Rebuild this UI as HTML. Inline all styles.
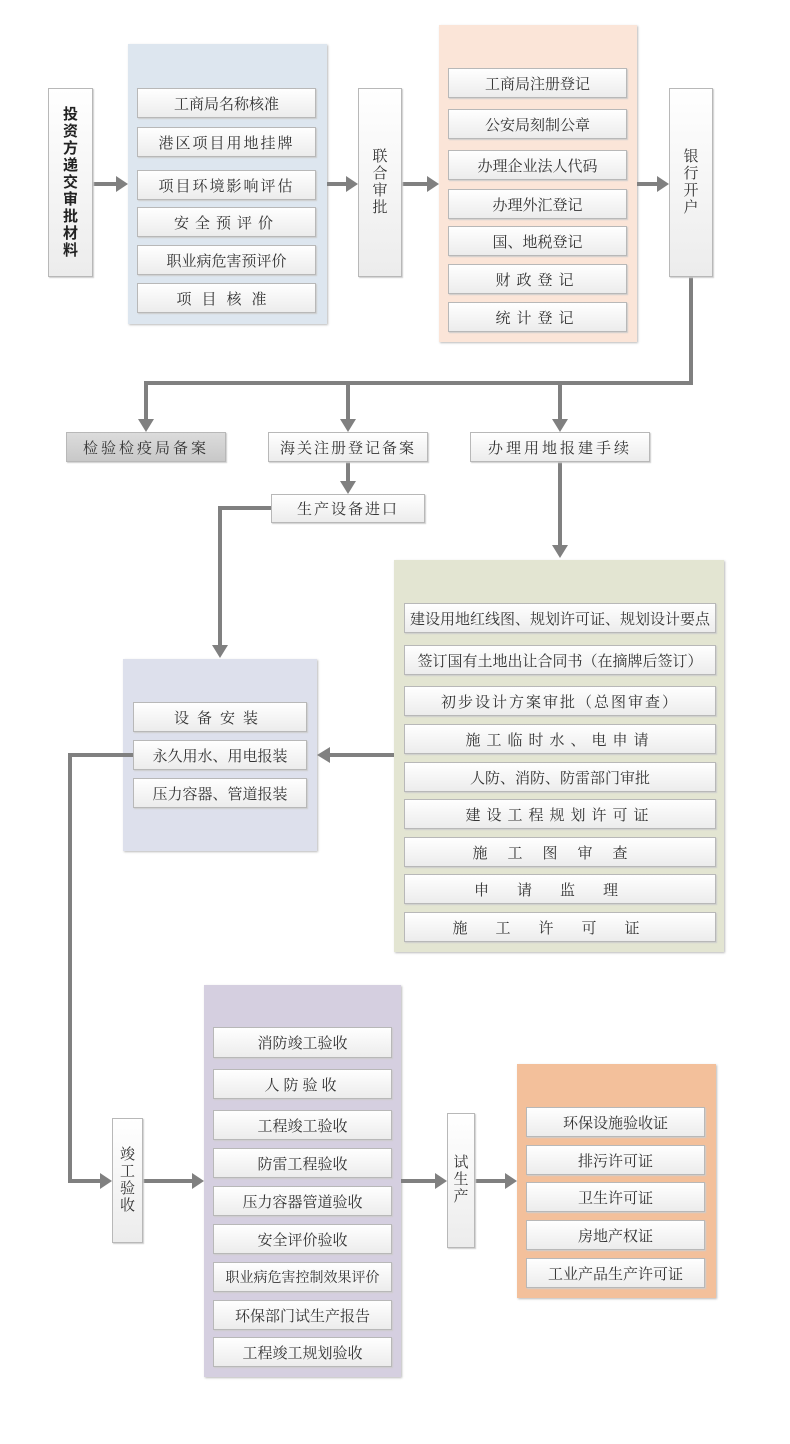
<!DOCTYPE html>
<html><head><meta charset="utf-8"><style>
body{margin:0;background:#fff;}
#c{position:relative;width:790px;height:1444px;overflow:hidden;font-family:"Liberation Serif","Noto Serif CJK SC",serif;color:#333;}
.g{position:absolute;box-shadow:1px 1px 2px #bbb;}
.b{position:absolute;box-sizing:border-box;border:1px solid #b8b8b8;background:linear-gradient(#fff,#ececec);box-shadow:1px 1px 1px #ccc;display:flex;align-items:center;justify-content:center;font-size:15px;white-space:nowrap;}
.v{flex-direction:column;line-height:17px;font-size:15px;}
svg{position:absolute;left:0;top:0;}
</style></head><body><div id="c">
<div class="g" style="left:128px;top:44px;width:199px;height:280px;background:#dde6ef"></div>
<div class="g" style="left:439px;top:25px;width:198px;height:317px;background:#fbe5d8"></div>
<div class="g" style="left:394px;top:560px;width:330px;height:392px;background:#e3e5d2"></div>
<div class="g" style="left:123px;top:659px;width:194px;height:192px;background:#dde0ec"></div>
<div class="g" style="left:204px;top:985px;width:197px;height:392px;background:#d5cfe0"></div>
<div class="g" style="left:517px;top:1064px;width:199px;height:234px;background:#f3c09b"></div>

<svg width="790" height="1444" fill="#808080" stroke="#808080">
<g stroke-width="4" fill="none">
<path d="M93 184H118M327 184H348M402 184H429M637 184H659"/>
<path d="M691 277V383H146V420M348 383V420M560 383V420"/>
<path d="M348 462V482M560 462V546M271 508H220V646M394 755H330M133 755H70V1181H100M143 1181H192M401 1181H435M475 1181H505"/>
</g>
<g stroke="none">
<path d="M128 184l-12-8v16zM358 184l-12-8v16zM439 184l-12-8v16zM669 184l-12-8v16z"/>
<path d="M146 432l-8-13h16zM348 432l-8-13h16zM560 432l-8-13h16zM348 494l-8-13h16zM560 558l-8-13h16zM220 658l-8-13h16z"/>
<path d="M317 755l13-8v16zM112 1181l-12-8v16zM204 1181l-12-8v16zM447 1181l-12-8v16zM517 1181l-12-8v16z"/>
</g></svg>

<div class="b v" style="left:48px;top:88px;width:45px;height:189px;font-weight:bold;color:#222;font-family:'Liberation Sans','Noto Sans CJK SC',sans-serif">投<br>资<br>方<br>递<br>交<br>审<br>批<br>材<br>料</div>
<div class="b v" style="left:358px;top:88px;width:44px;height:189px">联<br>合<br>审<br>批</div>
<div class="b v" style="left:669px;top:88px;width:44px;height:189px">银<br>行<br>开<br>户</div>

<div class="b" style="left:137px;top:88px;width:179px;height:30px">工商局名称核准</div>
<div class="b" style="left:137px;top:127px;width:179px;height:30px;letter-spacing:2px">港区项目用地挂牌</div>
<div class="b" style="left:137px;top:170px;width:179px;height:30px;letter-spacing:2px">项目环境影响评估</div>
<div class="b" style="left:137px;top:207px;width:179px;height:30px;letter-spacing:6px">安全预评价</div>
<div class="b" style="left:137px;top:245px;width:179px;height:30px">职业病危害预评价</div>
<div class="b" style="left:137px;top:283px;width:179px;height:30px;letter-spacing:10px">项目核准</div>

<div class="b" style="left:448px;top:68px;width:179px;height:30px">工商局注册登记</div>
<div class="b" style="left:448px;top:109px;width:179px;height:30px">公安局刻制公章</div>
<div class="b" style="left:448px;top:150px;width:179px;height:30px">办理企业法人代码</div>
<div class="b" style="left:448px;top:189px;width:179px;height:30px">办理外汇登记</div>
<div class="b" style="left:448px;top:226px;width:179px;height:30px">国、地税登记</div>
<div class="b" style="left:448px;top:264px;width:179px;height:30px;letter-spacing:6px">财政登记</div>
<div class="b" style="left:448px;top:302px;width:179px;height:30px;letter-spacing:6px">统计登记</div>

<div class="b" style="left:66px;top:432px;width:160px;height:30px;background:linear-gradient(#dcdcdc,#c8c8c8);letter-spacing:3px">检验检疫局备案</div>
<div class="b" style="left:268px;top:432px;width:160px;height:30px;letter-spacing:2px">海关注册登记备案</div>
<div class="b" style="left:470px;top:432px;width:180px;height:30px;letter-spacing:3px">办理用地报建手续</div>
<div class="b" style="left:271px;top:494px;width:154px;height:29px;letter-spacing:2px">生产设备进口</div>

<div class="b" style="left:404px;top:603px;width:312px;height:30px">建设用地红线图、规划许可证、规划设计要点</div>
<div class="b" style="left:404px;top:645px;width:312px;height:30px">签订国有土地出让合同书（在摘牌后签订）</div>
<div class="b" style="left:404px;top:686px;width:312px;height:30px;letter-spacing:2px">初步设计方案审批（总图审查）</div>
<div class="b" style="left:404px;top:724px;width:312px;height:30px;letter-spacing:6px">施工临时水、电申请</div>
<div class="b" style="left:404px;top:762px;width:312px;height:30px">人防、消防、防雷部门审批</div>
<div class="b" style="left:404px;top:799px;width:312px;height:30px;letter-spacing:6px">建设工程规划许可证</div>
<div class="b" style="left:404px;top:837px;width:312px;height:30px;letter-spacing:20px">施工图审查</div>
<div class="b" style="left:404px;top:874px;width:312px;height:30px;letter-spacing:28px">申请监理</div>
<div class="b" style="left:404px;top:912px;width:312px;height:30px;letter-spacing:28px">施工许可证</div>

<div class="b" style="left:133px;top:702px;width:174px;height:30px;letter-spacing:8px">设备安装</div>
<div class="b" style="left:133px;top:740px;width:174px;height:30px">永久用水、用电报装</div>
<div class="b" style="left:133px;top:778px;width:174px;height:30px">压力容器、管道报装</div>

<div class="b v" style="left:112px;top:1118px;width:31px;height:125px">竣<br>工<br>验<br>收</div>
<div class="b v" style="left:447px;top:1113px;width:28px;height:135px">试<br>生<br>产</div>

<div class="b" style="left:213px;top:1027px;width:179px;height:31px">消防竣工验收</div>
<div class="b" style="left:213px;top:1069px;width:179px;height:30px;letter-spacing:4px">人防验收</div>
<div class="b" style="left:213px;top:1110px;width:179px;height:30px">工程竣工验收</div>
<div class="b" style="left:213px;top:1148px;width:179px;height:30px">防雷工程验收</div>
<div class="b" style="left:213px;top:1186px;width:179px;height:30px">压力容器管道验收</div>
<div class="b" style="left:213px;top:1224px;width:179px;height:30px">安全评价验收</div>
<div class="b" style="left:213px;top:1262px;width:179px;height:30px;font-size:14px">职业病危害控制效果评价</div>
<div class="b" style="left:213px;top:1300px;width:179px;height:30px">环保部门试生产报告</div>
<div class="b" style="left:213px;top:1337px;width:179px;height:30px">工程竣工规划验收</div>

<div class="b" style="left:526px;top:1107px;width:179px;height:30px">环保设施验收证</div>
<div class="b" style="left:526px;top:1145px;width:179px;height:30px">排污许可证</div>
<div class="b" style="left:526px;top:1182px;width:179px;height:30px">卫生许可证</div>
<div class="b" style="left:526px;top:1220px;width:179px;height:30px">房地产权证</div>
<div class="b" style="left:526px;top:1258px;width:179px;height:30px">工业产品生产许可证</div>
</div></body></html>
